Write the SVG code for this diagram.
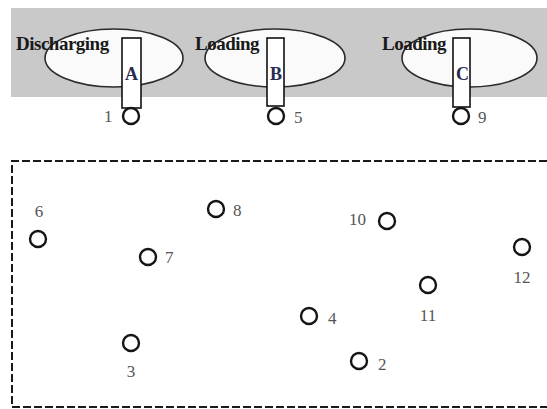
<svg xmlns="http://www.w3.org/2000/svg" width="547" height="409" viewBox="0 0 547 409">
<style>
.band{fill:#c9c9c9}
.ell{fill:#fafafa;stroke:#2a2a2a;stroke-width:1.6}
.rod{fill:#fff;stroke:#111;stroke-width:1.6}
.pt{fill:none;stroke:#151515;stroke-width:2.4}
.lbl{font-family:"Liberation Serif",serif;font-weight:bold;font-size:19px;fill:#1a1a1a;letter-spacing:-0.5px}
.ship{font-family:"Liberation Serif",serif;font-weight:bold;font-size:18px;fill:#2a2a50}
.num{font-family:"Liberation Serif",serif;font-size:17px;fill:#555}
.box{fill:none;stroke:#1a1a1a;stroke-width:2;stroke-dasharray:8 3}
</style>
<rect class="band" x="11" y="8" width="536" height="89"/>
<rect x="0" y="0" width="11" height="409" fill="#fff"/>
<rect x="11" y="97" width="536" height="63" fill="#fff"/>
<g id="berthA">
<ellipse class="ell" cx="114" cy="58" rx="69" ry="29"/>
<text class="lbl" x="16" y="50">Discharging</text>
<rect class="rod" x="122" y="38" width="19" height="70"/>
<text class="ship" x="125" y="80">A</text>
<circle class="pt" cx="131" cy="116" r="8"/>
<text class="num" x="104" y="122">1</text>
</g>
<g id="berthB">
<ellipse class="ell" cx="275" cy="58" rx="70" ry="29"/>
<text class="lbl" x="195" y="50">Loading</text>
<rect class="rod" x="267" y="38" width="17" height="68"/>
<text class="ship" x="270" y="80">B</text>
<circle class="pt" cx="276" cy="116" r="8"/>
<text class="num" x="294" y="123">5</text>
</g>
<g id="berthC">
<ellipse class="ell" cx="469.5" cy="58" rx="67.5" ry="29"/>
<text class="lbl" x="382" y="50">Loading</text>
<rect class="rod" x="453" y="38" width="17" height="69"/>
<text class="ship" x="456" y="80">C</text>
<circle class="pt" cx="461" cy="116" r="8"/>
<text class="num" x="478" y="123">9</text>
</g>
<g id="yard">
<path class="box" d="M547 161 H12 V407 H547"/>
</g>
<g id="p6"><circle class="pt" cx="38" cy="239" r="8"/><text class="num" x="39" y="217" text-anchor="middle">6</text></g>
<g id="p8"><circle class="pt" cx="216" cy="209" r="8"/><text class="num" x="233" y="216">8</text></g>
<g id="p7"><circle class="pt" cx="148" cy="257" r="8"/><text class="num" x="165" y="263" fill="#333">7</text></g>
<g id="p3"><circle class="pt" cx="131" cy="343" r="8"/><text class="num" x="131" y="377" text-anchor="middle" fill="#50507a">3</text></g>
<g id="p10"><circle class="pt" cx="387" cy="221" r="8"/><text class="num" x="349" y="225">10</text></g>
<g id="p12"><circle class="pt" cx="522" cy="247" r="8"/><text class="num" x="522" y="283" text-anchor="middle">12</text></g>
<g id="p11"><circle class="pt" cx="428" cy="285" r="8"/><text class="num" x="428" y="321" text-anchor="middle" fill="#5a5a50">11</text></g>
<g id="p4"><circle class="pt" cx="309" cy="316" r="8"/><text class="num" x="328" y="324">4</text></g>
<g id="p2"><circle class="pt" cx="359" cy="361" r="8"/><text class="num" x="378" y="370">2</text></g>
</svg>
